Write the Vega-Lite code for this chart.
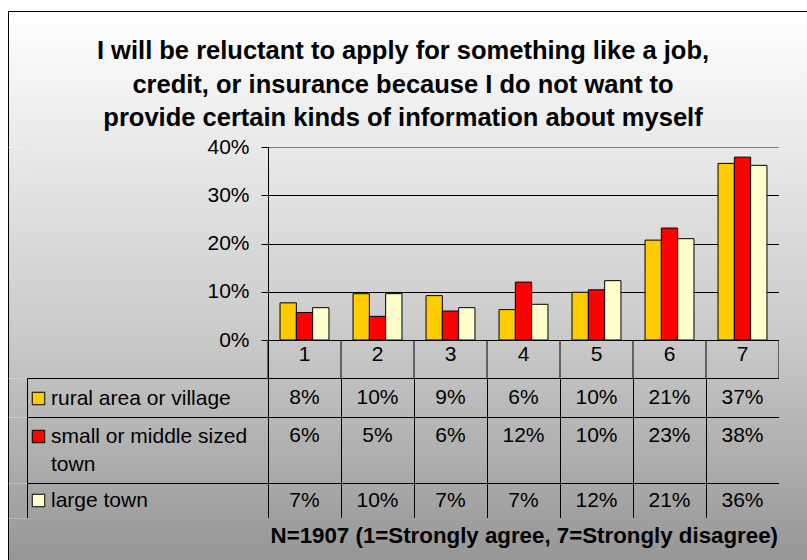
{
  "$schema": "https://vega.github.io/schema/vega-lite/v6.json",
  "padding": {"left": 7, "top": 10, "right": 0, "bottom": 0},
  "background": "white",
  "datasets": {
    "bars": [
      {"cat": "1", "series": "rural area or village", "value": 0.077},
      {"cat": "2", "series": "rural area or village", "value": 0.096},
      {"cat": "3", "series": "rural area or village", "value": 0.092},
      {"cat": "4", "series": "rural area or village", "value": 0.063},
      {"cat": "5", "series": "rural area or village", "value": 0.099},
      {"cat": "6", "series": "rural area or village", "value": 0.207},
      {"cat": "7", "series": "rural area or village", "value": 0.366},
      {"cat": "1", "series": "small or middle sized town", "value": 0.057},
      {"cat": "2", "series": "small or middle sized town", "value": 0.049},
      {"cat": "3", "series": "small or middle sized town", "value": 0.060},
      {"cat": "4", "series": "small or middle sized town", "value": 0.120},
      {"cat": "5", "series": "small or middle sized town", "value": 0.104},
      {"cat": "6", "series": "small or middle sized town", "value": 0.232},
      {"cat": "7", "series": "small or middle sized town", "value": 0.379},
      {"cat": "1", "series": "large town", "value": 0.067},
      {"cat": "2", "series": "large town", "value": 0.096},
      {"cat": "3", "series": "large town", "value": 0.067},
      {"cat": "4", "series": "large town", "value": 0.074},
      {"cat": "5", "series": "large town", "value": 0.123},
      {"cat": "6", "series": "large town", "value": 0.210},
      {"cat": "7", "series": "large town", "value": 0.362}
    ],
    "note": [{"note": "N=1907 (1=Strongly agree, 7=Strongly disagree)"}],
    "title": [{"line": ["I will be reluctant to apply for something like a job,", "credit, or insurance because I do not want to", "provide certain kinds of information about myself"]}]
  },
  "spacing": 0,
  "bounds": "flush",
  "vconcat": [
    {
      "width": 800, "height": 136,
      "data": {"name": "title"},
      "view": {"fill": {"gradient": "linear", "x1": 0, "y1": 0, "x2": 0, "y2": 1, "stops": [{"offset": 0, "color": "#ffffff"}, {"offset": 1, "color": "#e9e9e9"}]}, "stroke": "black", "strokeDash": [800, 936, 136]},
      "mark": {"type": "text", "font": "Liberation Sans", "fontSize": 25.5, "fontWeight": "bold", "lineHeight": 33.5, "fill": "black", "align": "center", "baseline": "middle", "dx": -5, "dy": -28},
      "encoding": {"text": {"field": "line", "type": "nominal"}}
    },
    {
      "columns": 4,
      "spacing": 0,
      "bounds": "flush",
      "resolve": {"scale": {"fill": "independent"}, "legend": {"fill": "independent"}},
      "concat": [
        {"width": 19, "height": 231, "data": {"values": [{}]}, "view": {"fill": {"gradient": "linear", "x1": 0, "y1": 0, "x2": 0, "y2": 1, "stops": [{"offset": 0, "color": "#e9e9e9"}, {"offset": 0.835, "color": "#c9c9c9"}, {"offset": 1, "color": "#c0c0c0"}]}, "stroke": "black", "strokeDash": [0, 269, 231]}, "mark": "text", "encoding": {"text": {"value": ""}}},
        {"width": 241, "height": 231, "data": {"values": [{}]}, "view": {"fill": {"gradient": "linear", "x1": 0, "y1": 0, "x2": 0, "y2": 1, "stops": [{"offset": 0, "color": "#e9e9e9"}, {"offset": 0.835, "color": "#c9c9c9"}, {"offset": 1, "color": "#c0c0c0"}]}, "stroke": null}, "mark": "text", "encoding": {"text": {"value": ""}}},
        {
          "width": 511, "height": 231,
          "data": {"name": "bars"},
          "view": {"fill": {"gradient": "linear", "x1": 0, "y1": 0, "x2": 0, "y2": 1, "stops": [{"offset": 0, "color": "#e9e9e9"}, {"offset": 0.835, "color": "#c9c9c9"}, {"offset": 1, "color": "#c0c0c0"}]}, "stroke": "#808080"},
          "resolve": {"scale": {"x": "independent"}},
          "layer": [
            {
              "mark": {"type": "bar", "stroke": "black", "strokeWidth": 1},
              "encoding": {
                "x": {"field": "cat", "type": "nominal", "scale": {"paddingInner": 0.33, "paddingOuter": 0.165}, "axis": null},
                "xOffset": {"field": "series", "type": "nominal", "sort": ["rural area or village", "small or middle sized town", "large town"], "scale": {"paddingInner": 0, "paddingOuter": 0}},
                "y": {"field": "value", "type": "quantitative", "scale": {"domain": [-0.07875, 0.4], "nice": false, "zero": false},
                  "axis": {"values": [0, 0.1, 0.2, 0.3, 0.4], "format": ".0%", "title": null, "tickSize": 7, "tickColor": "black", "domain": true, "domainColor": "black", "labelFont": "Liberation Sans", "labelFontSize": 21, "labelColor": "black", "labelPadding": 12, "grid": true, "gridColor": {"condition": {"test": "datum.value >= 0.4", "value": "#808080"}, "value": "black"}, "gridOpacity": 1}},
                "y2": {"datum": 0},
                "fill": {"field": "series", "type": "nominal", "scale": {"domain": ["rural area or village", "small or middle sized town", "large town"], "range": ["#FFCC00", "#FF0000", "#FFFFCC"]}, "legend": null}
              }
            },
            {
              "transform": [{"filter": "datum.series === 'rural area or village'"}],
              "layer": [
                {
                  "mark": {"type": "rule", "color": "black", "strokeWidth": 1},
                  "encoding": {
                    "x": {"field": "cat", "type": "nominal", "bandPosition": 0, "scale": {"paddingInner": 0, "paddingOuter": 0}, "axis": null},
                    "y": {"datum": 0, "type": "quantitative"},
                    "y2": {"datum": -0.07875}
                  }
                },
                {
                  "transform": [{"filter": "datum.cat === '7'"}],
                  "mark": {"type": "rule", "color": "black", "strokeWidth": 1},
                  "encoding": {
                    "x": {"field": "cat", "type": "nominal", "bandPosition": 1, "axis": null},
                    "y": {"datum": 0, "type": "quantitative"},
                    "y2": {"datum": -0.07875}
                  }
                },
                {
                  "mark": {"type": "text", "font": "Liberation Sans", "fontSize": 21, "fill": "black", "baseline": "middle"},
                  "encoding": {
                    "x": {"field": "cat", "type": "nominal", "axis": null},
                    "y": {"datum": -0.031, "type": "quantitative"},
                    "text": {"field": "cat", "type": "nominal"}
                  }
                }
              ]
            }
          ]
        },
        {"width": 29, "height": 231, "data": {"values": [{}]}, "view": {"fill": {"gradient": "linear", "x1": 0, "y1": 0, "x2": 0, "y2": 1, "stops": [{"offset": 0, "color": "#e9e9e9"}, {"offset": 0.835, "color": "#c9c9c9"}, {"offset": 1, "color": "#c0c0c0"}]}, "stroke": null}, "mark": "text", "encoding": {"text": {"value": ""}}},

        {"width": 19, "height": 39, "data": {"values": [{}]}, "view": {"fill": {"gradient": "linear", "x1": 0, "y1": 0, "x2": 0, "y2": 1, "stops": [{"offset": 0, "color": "#c0c0c0"}, {"offset": 1, "color": "#b7b7b7"}]}, "stroke": "black", "strokeDash": [0, 77, 39]}, "mark": "text", "encoding": {"text": {"value": ""}}},
        {
          "width": 241, "height": 39,
          "data": {"name": "bars"},
          "transform": [{"filter": "datum.series === 'rural area or village' && datum.cat === '1'"}],
          "view": {"fill": {"gradient": "linear", "x1": 0, "y1": 0, "x2": 0, "y2": 1, "stops": [{"offset": 0, "color": "#c0c0c0"}, {"offset": 1, "color": "#b7b7b7"}]}, "stroke": "black"},
          "mark": {"type": "text"},
          "encoding": {
            "text": {"value": ""},
            "fill": {"field": "series", "type": "nominal", "scale": {"domain": ["rural area or village"], "range": ["#FFCC00"]}, "legend": {"title": null, "orient": "none", "legendX": 1, "legendY": 10}}
          }
        },
        {
          "width": 511, "height": 39,
          "data": {"name": "bars"},
          "transform": [{"filter": "datum.series === 'rural area or village'"}],
          "view": {"fill": {"gradient": "linear", "x1": 0, "y1": 0, "x2": 0, "y2": 1, "stops": [{"offset": 0, "color": "#c0c0c0"}, {"offset": 1, "color": "#b7b7b7"}]}, "stroke": "black"},
          "mark": {"type": "text", "font": "Liberation Sans", "fontSize": 21, "fill": "black", "baseline": "middle"},
          "encoding": {
            "x": {"field": "cat", "type": "nominal", "scale": {"paddingInner": 0, "paddingOuter": 0}, "axis": {"tickBand": "extent", "grid": true, "gridColor": "black", "gridOpacity": 1, "labels": false, "ticks": false, "domain": false, "title": null}},
            "text": {"field": "value", "type": "quantitative", "format": ".0%"}
          }
        },
        {"width": 29, "height": 39, "data": {"values": [{}]}, "view": {"fill": {"gradient": "linear", "x1": 0, "y1": 0, "x2": 0, "y2": 1, "stops": [{"offset": 0, "color": "#c0c0c0"}, {"offset": 1, "color": "#b7b7b7"}]}, "stroke": null}, "mark": "text", "encoding": {"text": {"value": ""}}},

        {"width": 19, "height": 66, "data": {"values": [{}]}, "view": {"fill": {"gradient": "linear", "x1": 0, "y1": 0, "x2": 0, "y2": 1, "stops": [{"offset": 0, "color": "#b7b7b7"}, {"offset": 1, "color": "#a8a8a8"}]}, "stroke": "black", "strokeDash": [0, 104, 66]}, "mark": "text", "encoding": {"text": {"value": ""}}},
        {
          "width": 241, "height": 66,
          "data": {"name": "bars"},
          "transform": [{"filter": "datum.series === 'small or middle sized town' && datum.cat === '1'"}],
          "view": {"fill": {"gradient": "linear", "x1": 0, "y1": 0, "x2": 0, "y2": 1, "stops": [{"offset": 0, "color": "#b7b7b7"}, {"offset": 1, "color": "#a8a8a8"}]}, "stroke": "black"},
          "mark": {"type": "text"},
          "encoding": {
            "text": {"value": ""},
            "fill": {"field": "series", "type": "nominal", "scale": {"domain": ["small or middle sized town"], "range": ["#FF0000"]}, "legend": {"title": null, "orient": "none", "legendX": 1, "legendY": 9, "labelExpr": "datum.label === 'small or middle sized town' ? ['small or middle sized', 'town'] : datum.label"}}
          }
        },
        {
          "width": 511, "height": 66,
          "data": {"name": "bars"},
          "transform": [{"filter": "datum.series === 'small or middle sized town'"}],
          "view": {"fill": {"gradient": "linear", "x1": 0, "y1": 0, "x2": 0, "y2": 1, "stops": [{"offset": 0, "color": "#b7b7b7"}, {"offset": 1, "color": "#a8a8a8"}]}, "stroke": "black"},
          "mark": {"type": "text", "font": "Liberation Sans", "fontSize": 21, "fill": "black", "baseline": "middle", "dy": -14},
          "encoding": {
            "x": {"field": "cat", "type": "nominal", "scale": {"paddingInner": 0, "paddingOuter": 0}, "axis": {"tickBand": "extent", "grid": true, "gridColor": "black", "gridOpacity": 1, "labels": false, "ticks": false, "domain": false, "title": null}},
            "text": {"field": "value", "type": "quantitative", "format": ".0%"}
          }
        },
        {"width": 29, "height": 66, "data": {"values": [{}]}, "view": {"fill": {"gradient": "linear", "x1": 0, "y1": 0, "x2": 0, "y2": 1, "stops": [{"offset": 0, "color": "#b7b7b7"}, {"offset": 1, "color": "#a8a8a8"}]}, "stroke": null}, "mark": "text", "encoding": {"text": {"value": ""}}},

        {"width": 19, "height": 35, "data": {"values": [{}]}, "view": {"fill": {"gradient": "linear", "x1": 0, "y1": 0, "x2": 0, "y2": 1, "stops": [{"offset": 0, "color": "#a8a8a8"}, {"offset": 1, "color": "#a0a0a0"}]}, "stroke": "black", "strokeDash": [0, 73, 35]}, "mark": "text", "encoding": {"text": {"value": ""}}},
        {
          "width": 241, "height": 35,
          "data": {"name": "bars"},
          "transform": [{"filter": "datum.series === 'large town' && datum.cat === '1'"}],
          "view": {"fill": {"gradient": "linear", "x1": 0, "y1": 0, "x2": 0, "y2": 1, "stops": [{"offset": 0, "color": "#a8a8a8"}, {"offset": 1, "color": "#a0a0a0"}]}, "stroke": "black"},
          "mark": {"type": "text"},
          "encoding": {
            "text": {"value": ""},
            "fill": {"field": "series", "type": "nominal", "scale": {"domain": ["large town"], "range": ["#FFFFCC"]}, "legend": {"title": null, "orient": "none", "legendX": 1, "legendY": 7}}
          }
        },
        {
          "width": 511, "height": 35,
          "data": {"name": "bars"},
          "transform": [{"filter": "datum.series === 'large town'"}],
          "view": {"fill": {"gradient": "linear", "x1": 0, "y1": 0, "x2": 0, "y2": 1, "stops": [{"offset": 0, "color": "#a8a8a8"}, {"offset": 1, "color": "#a0a0a0"}]}, "stroke": "black"},
          "mark": {"type": "text", "font": "Liberation Sans", "fontSize": 21, "fill": "black", "baseline": "middle"},
          "encoding": {
            "x": {"field": "cat", "type": "nominal", "scale": {"paddingInner": 0, "paddingOuter": 0}, "axis": {"tickBand": "extent", "grid": true, "gridColor": "black", "gridOpacity": 1, "labels": false, "ticks": false, "domain": false, "title": null}},
            "text": {"field": "value", "type": "quantitative", "format": ".0%"}
          }
        },
        {"width": 29, "height": 35, "data": {"values": [{}]}, "view": {"fill": {"gradient": "linear", "x1": 0, "y1": 0, "x2": 0, "y2": 1, "stops": [{"offset": 0, "color": "#a8a8a8"}, {"offset": 1, "color": "#a0a0a0"}]}, "stroke": null}, "mark": "text", "encoding": {"text": {"value": ""}}},

        {"width": 19, "height": 43, "data": {"values": [{}]}, "view": {"fill": {"gradient": "linear", "x1": 0, "y1": 0, "x2": 0, "y2": 1, "stops": [{"offset": 0, "color": "#a0a0a0"}, {"offset": 1, "color": "#969696"}]}, "stroke": "black", "strokeDash": [0, 81, 43]}, "mark": "text", "encoding": {"text": {"value": ""}}},
        {"width": 241, "height": 43, "data": {"values": [{}]}, "view": {"fill": {"gradient": "linear", "x1": 0, "y1": 0, "x2": 0, "y2": 1, "stops": [{"offset": 0, "color": "#a0a0a0"}, {"offset": 1, "color": "#969696"}]}, "stroke": null}, "mark": "text", "encoding": {"text": {"value": ""}}},
        {
          "width": 511, "height": 43,
          "data": {"name": "note"},
          "view": {"fill": {"gradient": "linear", "x1": 0, "y1": 0, "x2": 0, "y2": 1, "stops": [{"offset": 0, "color": "#a0a0a0"}, {"offset": 1, "color": "#969696"}]}, "stroke": null},
          "mark": {"type": "text", "font": "Liberation Sans", "fontSize": 22.3, "fontWeight": "bold", "fill": "black", "align": "right", "baseline": "alphabetic", "dx": -1, "dy": 3},
          "encoding": {
            "x": {"value": "width"},
            "text": {"field": "note", "type": "nominal"}
          }
        },
        {"width": 29, "height": 43, "data": {"values": [{}]}, "view": {"fill": {"gradient": "linear", "x1": 0, "y1": 0, "x2": 0, "y2": 1, "stops": [{"offset": 0, "color": "#a0a0a0"}, {"offset": 1, "color": "#969696"}]}, "stroke": null}, "mark": "text", "encoding": {"text": {"value": ""}}}
      ]
    }
  ],
  "config": {
    "view": {"stroke": null},
    "font": "Liberation Sans",
    "style": {"guide-label": {"lineHeight": 28}},
    "legend": {
      "padding": 0,
      "labelFont": "Liberation Sans",
      "labelFontSize": 21,
      "labelColor": "black",
      "labelLimit": 400,
      "labelOffset": 2,
      "symbolType": "square",
      "symbolSize": 156,
      "symbolStrokeColor": "black",
      "symbolStrokeWidth": 1,
      "symbolOpacity": 1
    }
  }
}
